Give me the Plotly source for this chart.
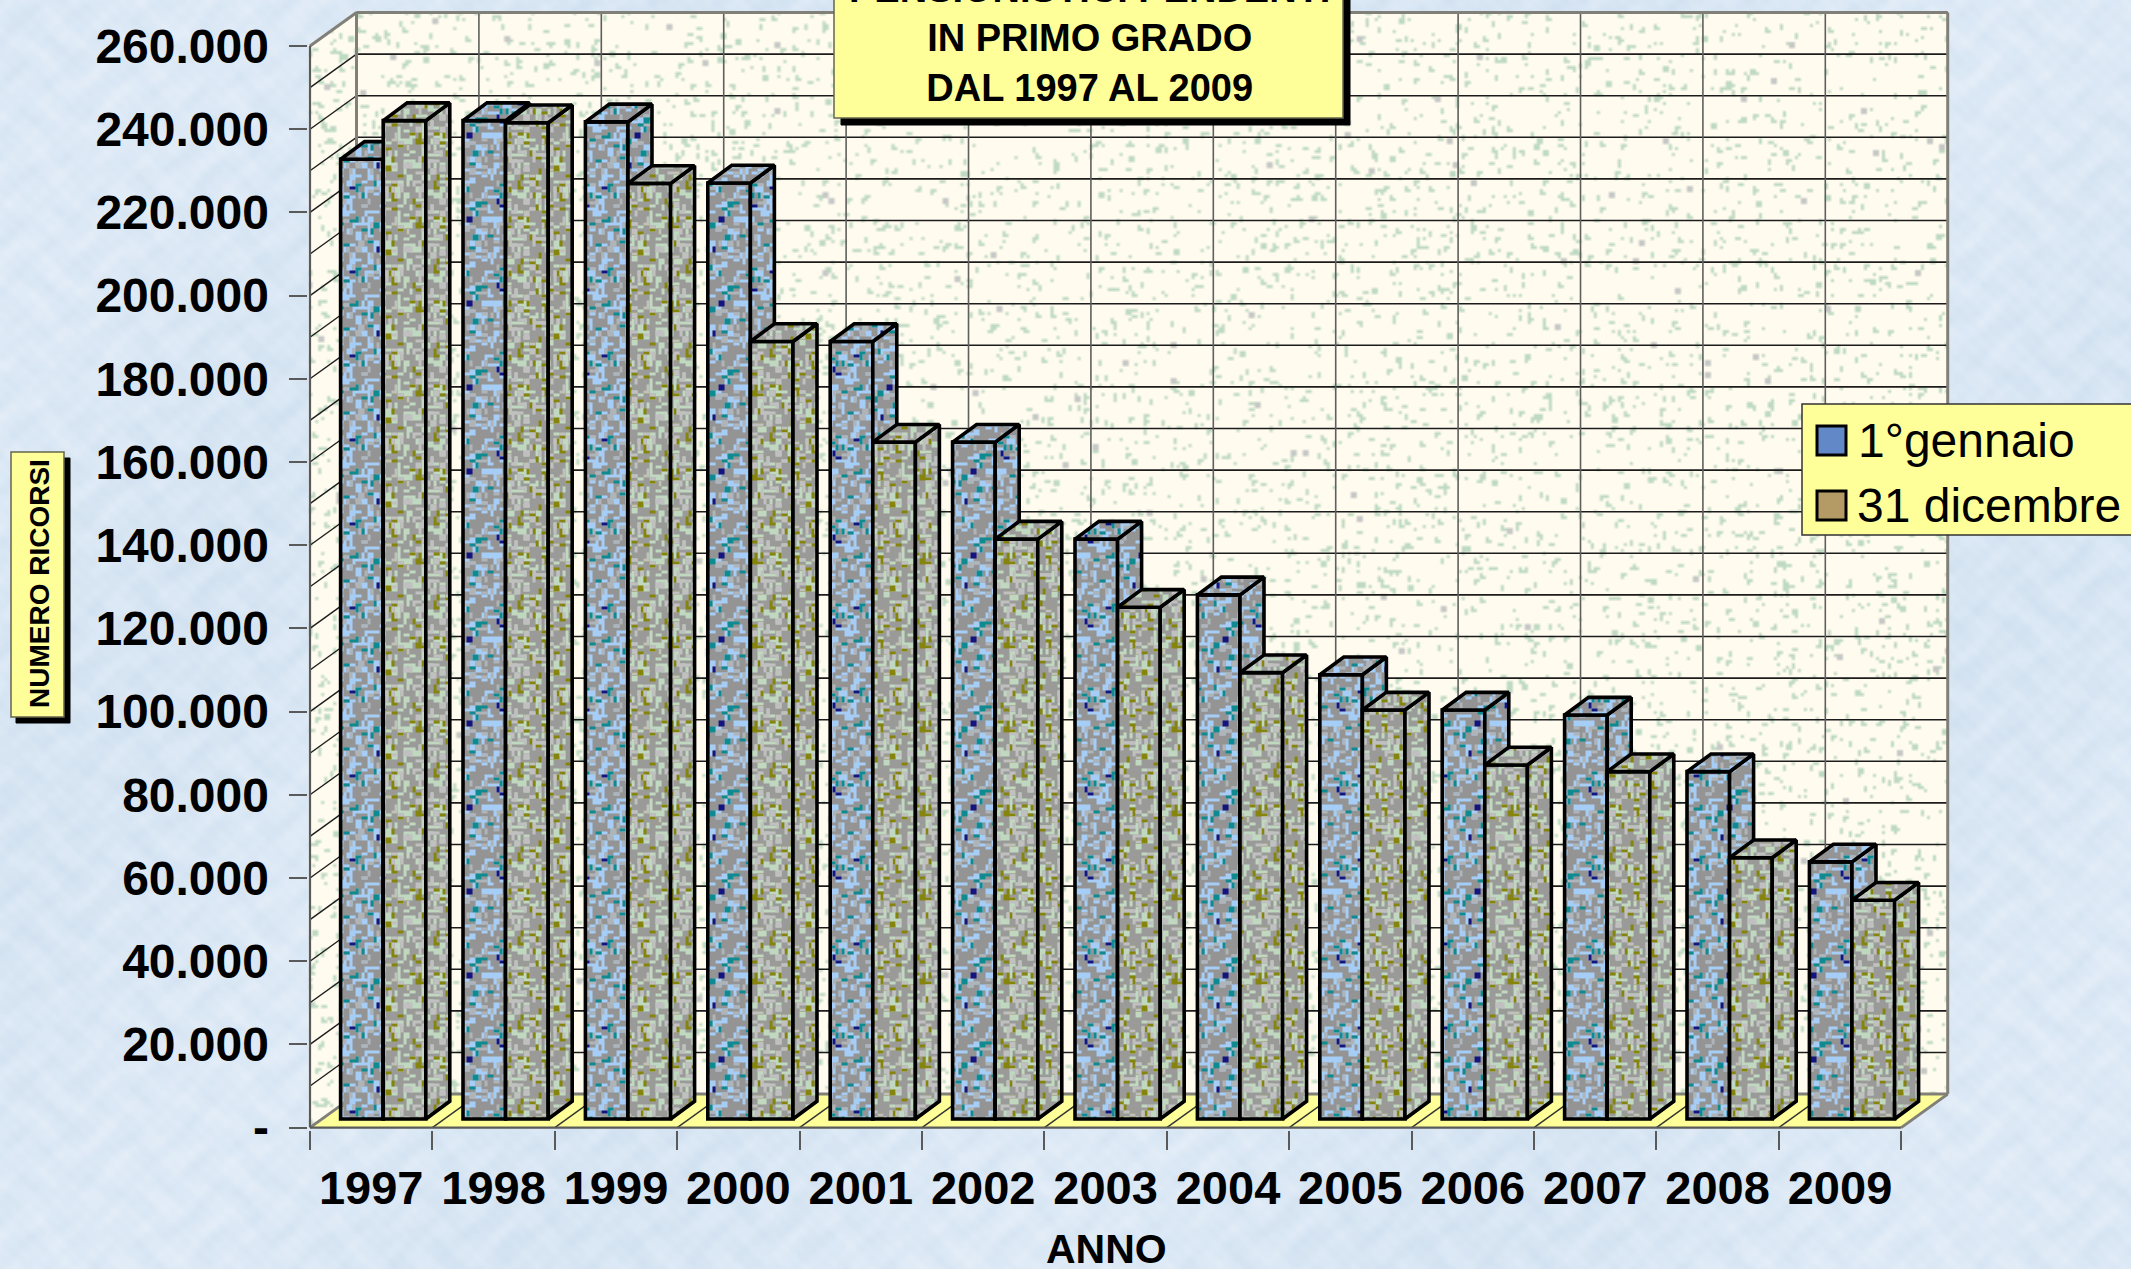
"""Ricorsi pensionistici pendenti in primo grado, 1997-2009 (finto 3D)."""

import base64
import struct
import zlib

import numpy as np
import plotly.graph_objects as go

YEARS = ["1997", "1998", "1999", "2000", "2001", "2002", "2003",
         "2004", "2005", "2006", "2007", "2008", "2009"]
JAN_1 = [230700, 240000, 239700, 225000, 186900, 162700, 139400,
         126000, 106800, 98300, 97100, 83500, 61800]
DEC_31 = [240000, 239500, 224900, 186900, 162700, 139400, 123000,
          107300, 98300, 85100, 83500, 62800, 52600]
Y_TICKS = list(range(0, 260001, 20000))
Y_LABELS = ["-"] + [f"{v // 1000}.000" for v in Y_TICKS[1:]]
GRID_STEPS = list(range(0, 260001, 10000))

W, H = 2131, 1269
FONT = "Liberation Sans, Arial, sans-serif"

# scala: pixel per unita' sugli assi
X0_PX, PX_PER_CAT = 310.0, 122.4
Y0_PX, PX_PER_VAL = 1127.6, 0.00416
X_RANGE = [-0.02, 13.42]
Y_RANGE = [-500, 269500]

# profondita' del pavimento e delle barre, in unita' degli assi
DEPTH_X, DEPTH_Y = 0.38, 8050
BAR_DX, BAR_DY = 0.196, 4255
BAR_LIFT = 2067
BAR_W = 0.348
BAR_START = 0.25
BAR_EDGE = 3.6

N = len(YEARS)
X_DOMAIN = [(X0_PX + X_RANGE[0] * PX_PER_CAT) / W, (X0_PX + X_RANGE[1] * PX_PER_CAT) / W]
Y_DOMAIN = [(H - Y0_PX + Y_RANGE[0] * PX_PER_VAL) / H, (H - Y0_PX + Y_RANGE[1] * PX_PER_VAL) / H]

CLEAR = "rgba(0,0,0,0)"


def px_x(v):
    return v / W


def px_y(v):
    return 1 - v / H


def hash_noise(xx, yy, seed):
    v = np.sin(xx * 12.9898 + yy * 78.233 + seed * 37.719) * 43758.5453
    return v - np.floor(v)


def segments(pairs):
    xs, ys = [], []
    for (x1, y1), (x2, y2) in pairs:
        xs += [x1, x2, None]
        ys += [y1, y2, None]
    return xs, ys


def polygons(polys):
    xs, ys = [], []
    for poly in polys:
        xs += [p[0] for p in poly] + [poly[0][0], None]
        ys += [p[1] for p in poly] + [poly[0][1], None]
    return xs, ys


def add_lines(fig, pairs, color, width):
    xs, ys = segments(pairs)
    fig.add_trace(go.Scatter(x=xs, y=ys, mode="lines", line=dict(color=color, width=width),
                             hoverinfo="skip", showlegend=False))


def add_poly(fig, polys, layers, line_color, line_width, xa="x", ya="y"):
    """Un poligono per ogni strato di texture; il bordo solo sull'ultimo."""
    xs, ys = polygons(polys)
    for k, layer in enumerate(layers):
        last = k == len(layers) - 1
        fig.add_trace(go.Scatter(
            x=xs, y=ys, xaxis=xa, yaxis=ya, mode="lines", fill="toself",
            fillcolor=layer["bgcolor"],
            fillpattern=layer,
            line=dict(color=line_color if last else CLEAR, width=line_width if last else 0),
            hoverinfo="skip", showlegend=False,
        ))


def weave_path(seed, density, cell=3, cells=28):
    """Piastrella a trama intrecciata: trattini orizzontali e verticali a blocchi."""
    parts = []
    for row in range(cells):
        for col in range(cells):
            horizontal = (row // 4 + col // 4) % 2 == 0
            key = (col // 2, row) if horizontal else (col, row // 2)
            if hash_noise(key[0] + 0.5, key[1] + 0.5, seed) < density:
                parts.append(f"M{col * cell},{row * cell}h{cell}v{cell}h-{cell}z")
    return "".join(parts)


def texture(seed, fg, density, bg=CLEAR, cell=3):
    return dict(path=weave_path(seed, density, cell), fgcolor=fg, bgcolor=bg, size=28 * cell, fillmode="replace")


def add_series(fig, values, slot, name, face, xa, ya):
    xpos = [i + BAR_START + slot * BAR_W for i in range(N)]
    for k, layer in enumerate(face):
        last = k == len(face) - 1
        fig.add_trace(go.Bar(
            x=xpos, y=values, base=BAR_LIFT, width=BAR_W, offset=0, name=name,
            xaxis=xa, yaxis=ya, showlegend=False,
            marker=dict(color=layer["bgcolor"], pattern=layer,
                        line=dict(color="#000000" if last else CLEAR, width=BAR_EDGE if last else 0)),
        ))
    sides, tops = [], []
    for x, v in zip(xpos, values):
        top = v + BAR_LIFT
        right = x + BAR_W
        sides.append([(right, BAR_LIFT), (right + BAR_DX, BAR_LIFT + BAR_DY),
                      (right + BAR_DX, top + BAR_DY), (right, top)])
        tops.append([(x, top), (right, top), (right + BAR_DX, top + BAR_DY), (x + BAR_DX, top + BAR_DY)])
    add_poly(fig, sides, face, "#000000", BAR_EDGE, xa, ya)
    add_poly(fig, tops, face, "#000000", BAR_EDGE, xa, ya)


def page_texture():
    """Sfondo azzurro marezzato e pareti chiare a puntini, PNG senza librerie esterne."""
    step = 3
    h, w = H // step, W // step
    yy, xx = np.mgrid[0:h, 0:w].astype(float)
    m = (np.sin(xx * 0.31 + np.sin(yy * 0.23) * 3) + np.sin(yy * 0.37 + np.sin(xx * 0.19) * 3)
         + np.sin((xx + yy) * 0.83) * 0.5 + np.sin((xx - yy) * 1.13) * 0.5 + np.sin(xx * 0.021 + yy * 0.017) * 1.2)
    m = m / np.abs(m).max()
    rgb = np.stack([219 + 10 * m, 232 + 7 * m, 245 + 4 * m], axis=-1)

    # pareti: coordinate dati di ogni pixel
    px, py = (xx + 0.5) * step, (yy + 0.5) * step
    cx = (px - X0_PX) / PX_PER_CAT
    vy = (Y0_PX - py) / PX_PER_VAL
    left_wall = (cx >= 0) & (cx <= DEPTH_X) & (vy >= cx / DEPTH_X * DEPTH_Y) & (vy <= GRID_STEPS[-1] + cx / DEPTH_X * DEPTH_Y)
    back_wall = (cx > DEPTH_X) & (cx <= N + DEPTH_X) & (vy >= DEPTH_Y) & (vy <= GRID_STEPS[-1] + DEPTH_Y)
    wall = left_wall | back_wall
    spot = hash_noise(xx, yy, 1) < 0.05
    spot |= np.roll(spot, 1, axis=0) & (hash_noise(xx, yy, 2) < 0.4)
    spot |= np.roll(spot, 1, axis=1) & (hash_noise(xx, yy, 3) < 0.25)
    grey = hash_noise(xx // 2, yy // 2, 4) < 0.004
    rgb[wall] = (255, 251, 239)
    rgb[wall & spot] = (190, 218, 194)
    rgb[wall & grey] = (198, 200, 198)

    rgb = rgb.clip(0, 255).astype(np.uint8)
    raw = b"".join(b"\x00" + rgb[i].tobytes() for i in range(h))

    def chunk(tag, data):
        return struct.pack(">I", len(data)) + tag + data + struct.pack(">I", zlib.crc32(tag + data))

    png = (b"\x89PNG\r\n\x1a\n" + chunk(b"IHDR", struct.pack(">IIBBBBB", w, h, 8, 2, 0, 0, 0))
           + chunk(b"IDAT", zlib.compress(raw)) + chunk(b"IEND", b""))
    return "data:image/png;base64," + base64.b64encode(png).decode()


JAN_FACE = [texture(11, "#a6cdf5", 0.36, "#949494"), texture(12, "#aeb4b8", 0.14),
            texture(13, "#0e8a90", 0.06), texture(14, "#14147f", 0.02)]
DEC_FACE = [texture(21, "#c0d8c0", 0.26, "#9a9a98"), texture(22, "#85850e", 0.13),
            texture(23, "#c0c0c0", 0.18), texture(24, "#8f1010", 0.008)]

fig = go.Figure()

# pavimento
top_val = GRID_STEPS[-1]
fig.add_trace(go.Scatter(
    x=[0, N, N + DEPTH_X, DEPTH_X, 0], y=[0, 0, DEPTH_Y, DEPTH_Y, 0], mode="lines", fill="toself",
    fillcolor="#ffff99", line=dict(color=CLEAR, width=0), hoverinfo="skip", showlegend=False,
))

# griglia
add_lines(fig, [((DEPTH_X, v + DEPTH_Y), (N + DEPTH_X, v + DEPTH_Y)) for v in GRID_STEPS[1:]], "#1c1c1c", 1.6)
add_lines(fig, [((0, v), (DEPTH_X, v + DEPTH_Y)) for v in GRID_STEPS[1:]], "#1c1c1c", 1.4)
add_lines(fig, [((i + DEPTH_X, DEPTH_Y), (i + DEPTH_X, top_val + DEPTH_Y)) for i in range(1, N)], "#5f5f5f", 1.6)
add_lines(fig, [((i, 0), (i + DEPTH_X, DEPTH_Y)) for i in range(1, N)], "#333333", 1.4)
add_lines(fig, [((DEPTH_X, DEPTH_Y), (N + DEPTH_X, DEPTH_Y)),
                ((N + DEPTH_X, DEPTH_Y), (N + DEPTH_X, top_val + DEPTH_Y)),
                ((DEPTH_X, top_val + DEPTH_Y), (N + DEPTH_X, top_val + DEPTH_Y)),
                ((DEPTH_X, DEPTH_Y), (DEPTH_X, top_val + DEPTH_Y)),
                ((0, top_val), (DEPTH_X, top_val + DEPTH_Y)),
                ((0, 0), (DEPTH_X, DEPTH_Y)),
                ((N, 0), (N + DEPTH_X, DEPTH_Y))], "#808078", 3)
add_lines(fig, [((0, 0), (0, top_val)), ((0, 0), (N, 0))], "#5a5a5a", 2.2)

add_series(fig, JAN_1, 0, "1°gennaio", JAN_FACE, "x2", "y2")
add_series(fig, DEC_31, 1, "31 dicembre", DEC_FACE, "x3", "y3")

hidden_x = dict(domain=X_DOMAIN, range=X_RANGE, visible=False, fixedrange=True)
hidden_y = dict(domain=Y_DOMAIN, range=Y_RANGE, visible=False, fixedrange=True)

fig.update_layout(
    width=W, height=H, margin=dict(l=0, r=0, t=0, b=0),
    paper_bgcolor="#dde9f6", plot_bgcolor=CLEAR,
    showlegend=False, barmode="overlay",
    font=dict(family=FONT, color="#000000"),
    images=[dict(source=page_texture(), xref="paper", yref="paper", x=0, y=1, sizex=1, sizey=1,
                 xanchor="left", yanchor="top", sizing="stretch", layer="below")],
    xaxis=dict(
        domain=X_DOMAIN, range=X_RANGE, showgrid=False, zeroline=False, showline=False, automargin=False,
        tickmode="array", tickvals=[i + 0.5 for i in range(N)], ticktext=YEARS,
        ticks="", ticklabelstandoff=26,
        tickfont=dict(size=47, family=FONT, weight="bold"),
        minor=dict(tickmode="array", tickvals=list(range(N + 1)), ticks="outside", ticklen=19,
                   tickwidth=2, tickcolor="#5a5a5a", showgrid=False),
    ),
    yaxis=dict(
        domain=Y_DOMAIN, range=Y_RANGE, showgrid=False, zeroline=False, showline=False, automargin=False,
        tickmode="array", tickvals=Y_TICKS, ticktext=Y_LABELS,
        ticks="outside", ticklen=18, tickwidth=2, tickcolor="#5a5a5a", ticklabelstandoff=10,
        tickfont=dict(size=48, family=FONT, weight="bold"),
    ),
    xaxis2=dict(hidden_x, overlaying="x", anchor="y2"),
    yaxis2=dict(hidden_y, overlaying="y", anchor="x2"),
    xaxis3=dict(hidden_x, overlaying="x", anchor="y3"),
    yaxis3=dict(hidden_y, overlaying="y", anchor="x3"),
)


def box(x0, y0, x1, y1, fill, line=None, width=1):
    fig.add_shape(type="rect", xref="paper", yref="paper",
                  x0=px_x(x0), x1=px_x(x1), y0=px_y(y0), y1=px_y(y1), layer="above",
                  fillcolor=fill, line=dict(color=line or fill, width=width))


def label(text, x, y, size, bold=True, xanchor="center", angle=0):
    fig.add_annotation(text=text, xref="paper", yref="paper", x=px_x(x), y=px_y(y),
                       xanchor=xanchor, yanchor="middle", showarrow=False, textangle=angle,
                       font=dict(size=size, family=FONT, color="#000000", weight="bold" if bold else "normal"))


# titolo
box(841, -20, 1350, 125, "#000000")
box(834, -20, 1343, 118, "#ffff99", "#66664d", 1.5)
label("PENSIONISTICI PENDENTI<br>IN PRIMO GRADO<br>DAL 1997 AL 2009", 1089, 38, 38)

# titolo asse y
box(16, 458, 70, 723, "#000000")
box(11, 452, 64, 717, "#ffff99", "#66664d", 1.5)
label("NUMERO RICORSI", 39, 584, 28, angle=-90)

label("ANNO", 1106, 1249, 41)

# legenda
box(1802, 404, 2145, 535, "#ffff99", "#333333", 1.5)
box(1817, 426, 1846, 455, "#6288c8", "#000000", 3)
box(1817, 491, 1846, 520, "#b49a64", "#000000", 3)
label("1°gennaio", 1856, 440, 48, bold=False, xanchor="left")
label("31 dicembre", 1855, 505, 48, bold=False, xanchor="left")

fig.write_html("out.html", config={"displayModeBar": False}, post_script="document.body.style.margin='0';")
